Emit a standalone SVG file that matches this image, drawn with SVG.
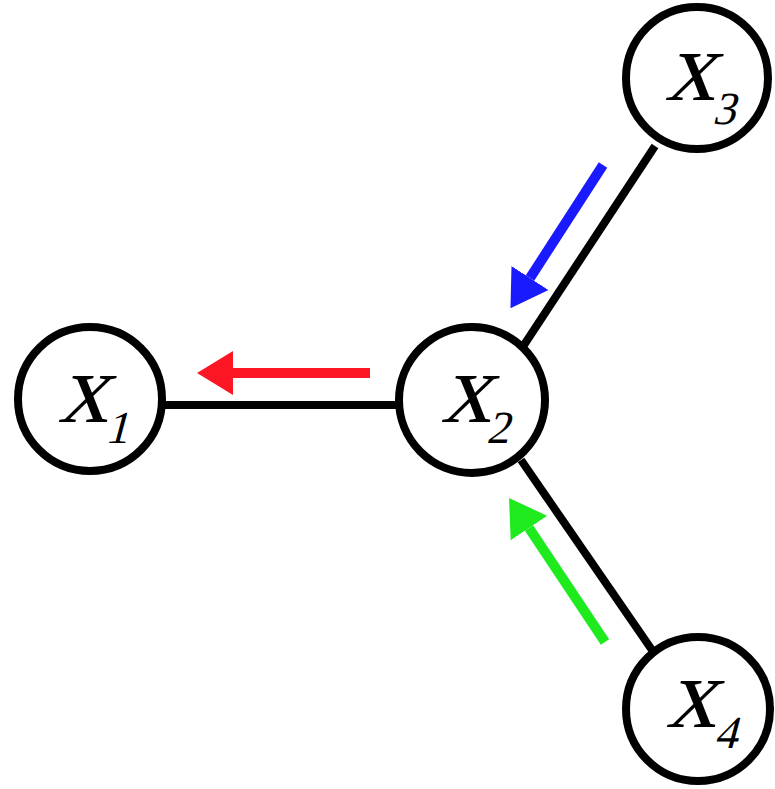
<svg xmlns="http://www.w3.org/2000/svg" width="775" height="789" viewBox="0 0 775 789">
<style>
.edge{stroke:#000;stroke-width:8;fill:none}
.node{fill:#fff;stroke:#000;stroke-width:8}
.v{font-family:'Liberation Serif','Times New Roman',serif;font-size:100px;fill:#000}
.s{font-family:'Liberation Serif','Times New Roman',serif;font-size:46px;fill:#000}
</style>
<defs>
<marker id="hr" viewBox="0 -22 36 44" refX="0" refY="0" markerWidth="36" markerHeight="44" markerUnits="userSpaceOnUse" orient="auto"><path d="M0,-22 L36,0 L0,22 z" fill="#fd1624"/></marker>
<marker id="hb" viewBox="0 -22 36 44" refX="0" refY="0" markerWidth="36" markerHeight="44" markerUnits="userSpaceOnUse" orient="auto"><path d="M0,-22 L36,0 L0,22 z" fill="#1a1aff"/></marker>
<marker id="hg" viewBox="0 -22 36 44" refX="0" refY="0" markerWidth="36" markerHeight="44" markerUnits="userSpaceOnUse" orient="auto"><path d="M0,-22 L36,0 L0,22 z" fill="#1eea1e"/></marker>
</defs>
<rect width="775" height="789" fill="#fff"/>
<g id="connectors">
<line class="edge" x1="163" y1="405" x2="398" y2="405"/>
<line class="edge" x1="524" y1="345" x2="655" y2="146"/>
<line class="edge" x1="521" y1="460" x2="652" y2="650"/>
<line x1="370" y1="373" x2="233" y2="373" stroke="#fd1624" stroke-width="10" marker-end="url(#hr)"/>
<line x1="603" y1="165" x2="530" y2="278" stroke="#1a1aff" stroke-width="10" marker-end="url(#hb)"/>
<line x1="605" y1="642" x2="529" y2="528" stroke="#1eea1e" stroke-width="10" marker-end="url(#hg)"/>
</g>
<g id="x1"><circle class="node" cx="90" cy="399" r="72"/><text class="v" transform="translate(58,422) skewX(-15)">x</text><text class="s" transform="translate(105,443) skewX(-15)">1</text></g>
<g id="x2"><circle class="node" cx="472" cy="400" r="73"/><text class="v" transform="translate(441,422) skewX(-15)">x</text><text class="s" transform="translate(486,443) skewX(-15)">2</text></g>
<g id="x3"><circle class="node" cx="697" cy="78" r="71"/><text class="v" transform="translate(665,100) skewX(-15)">x</text><text class="s" transform="translate(712,124) skewX(-15)">3</text></g>
<g id="x4"><circle class="node" cx="698" cy="709" r="72"/><text class="v" transform="translate(666,727) skewX(-15)">x</text><text class="s" transform="translate(714,748) skewX(-15)">4</text></g>
</svg>
